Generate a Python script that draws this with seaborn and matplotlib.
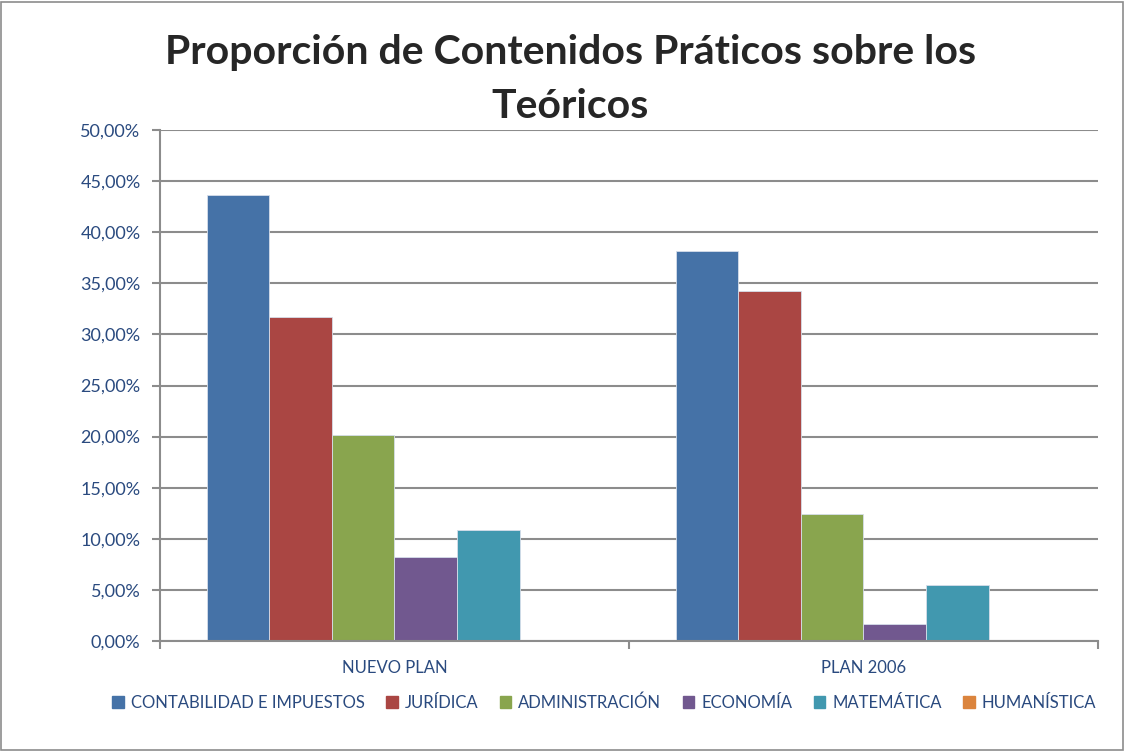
import numpy as np
import pandas as pd
import seaborn as sns
import matplotlib.pyplot as plt
from matplotlib.patches import Rectangle
from matplotlib.ticker import FuncFormatter

planes = ["NUEVO PLAN", "PLAN 2006"]
areas = ["CONTABILIDAD E IMPUESTOS", "JURÍDICA", "ADMINISTRACIÓN",
         "ECONOMÍA", "MATEMÁTICA", "HUMANÍSTICA"]
nuevo_plan = [43.6, 31.7, 20.2, 8.2, 10.85, 0.0]
plan_2006 = [38.2, 34.2, 12.4, 1.65, 5.45, 0.0]
colores = ["#4572A7", "#AA4643", "#89A54E", "#71588F", "#4198AF", "#DB843D"]

df = pd.DataFrame({
    "plan": [planes[0]] * len(areas) + [planes[1]] * len(areas),
    "area": areas + areas,
    "valor": nuevo_plan + plan_2006,
})

sns.set_style("white")
plt.rcParams["font.family"] = ["Lato", "DejaVu Sans"]
texto = "#2A4A7F"

fig = plt.figure(figsize=(11.25, 7.52), dpi=100)
ax = fig.add_axes([0.1422, 0.1476, 0.8338, 0.6795])

sns.barplot(data=df, x="plan", y="valor", hue="area", hue_order=areas,
            palette=colores, saturation=1, width=0.8, ax=ax,
            edgecolor="#D6DEEA", linewidth=0.6, legend=True)

ax.set_ylim(0, 50)
ax.set_xlim(-0.5, 1.5)
ax.set_yticks(np.arange(0, 51, 5))
ax.yaxis.set_major_formatter(FuncFormatter(lambda v, p: f"{v:.2f}%".replace(".", ",")))
ax.yaxis.grid(True, color="#8C8C8C", linewidth=1.5)
ax.set_axisbelow(True)
for s in ["top", "right"]:
    ax.spines[s].set_visible(False)
for s in ["left", "bottom"]:
    ax.spines[s].set_color("#8C8C8C")
    ax.spines[s].set_linewidth(1.5)
ax.tick_params(axis="y", length=6, width=1.5, color="#8C8C8C",
               labelsize=13, labelcolor=texto, left=True, pad=8)
ax.set_xticks([-0.5, 0.5, 1.5], minor=True)
ax.tick_params(axis="x", which="major", length=0, labelsize=12,
               labelcolor=texto, pad=14)
ax.tick_params(axis="x", which="minor", length=6, width=1.5,
               color="#8C8C8C", bottom=True)
ax.set_xlabel("")
ax.set_ylabel("")

ax.get_legend().remove()
handles = [Rectangle((0, 0), 1, 1, color=c) for c in colores]
fig.legend(handles, areas, loc="center", bbox_to_anchor=(0.537, 0.066),
           ncol=6, frameon=False, fontsize=12, handlelength=0.7,
           handleheight=0.7, handletextpad=0.4, columnspacing=1.3,
           labelcolor=texto)

fig.text(0.507, 0.93, "Proporción de Contenidos Práticos sobre los",
         ha="center", va="center", fontsize=29.5, fontweight="bold")
fig.text(0.507, 0.858, "Teóricos", ha="center", va="center",
         fontsize=29.5, fontweight="bold")

fig.patches.append(Rectangle((0.001, 0.002), 0.997, 0.995,
                             transform=fig.transFigure, fill=False,
                             edgecolor="#8C8C8C", linewidth=1.2))

fig.savefig("out.png", dpi=100)
